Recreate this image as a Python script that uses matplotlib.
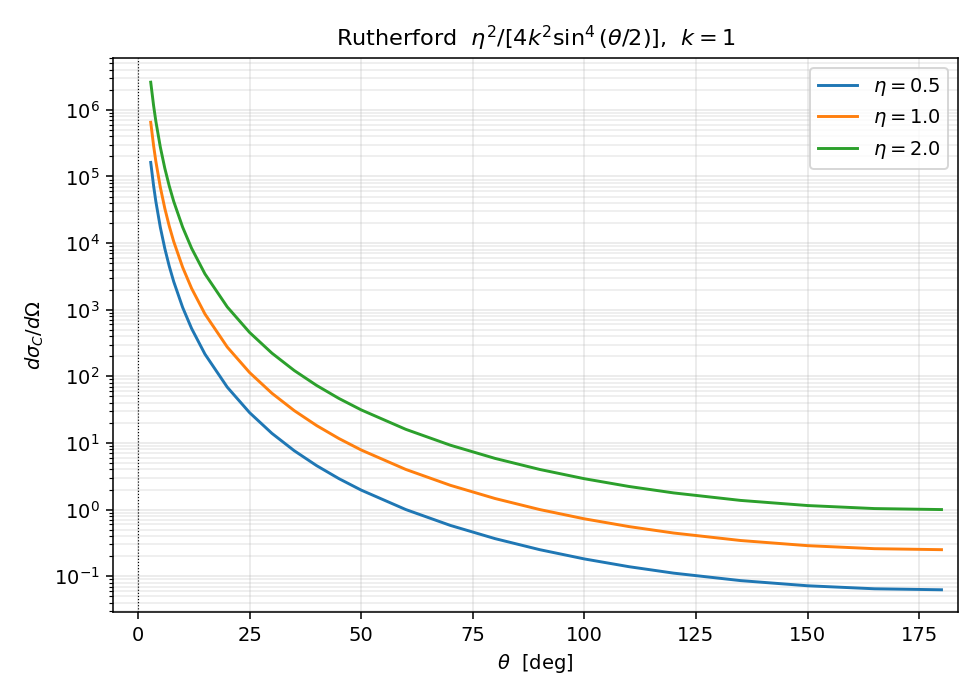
import matplotlib

matplotlib.use("Agg")
import matplotlib.pyplot as plt

# scattering angle in degrees
theta = [2.85, 3.5, 4, 5, 6, 7, 8, 10, 12, 15, 20, 25, 30, 35, 40, 45, 50, 60,
         70, 80, 90, 100, 110, 120, 135, 150, 165, 180]

sigma_eta1 = [6.5e5, 2.875e5, 1.685e5, 6.906e4, 3.332e4, 1.800e4, 1.056e4, 4333,
              2094, 861.3, 274.9, 113.9, 55.71, 30.58, 18.27, 11.66, 7.837, 4.0,
              2.310, 1.4645, 1.0, 0.7260, 0.5552, 0.4444, 0.3431, 0.2872, 0.2587, 0.25]
sigma_eta05 = [1.625e5, 7.19e4, 4.21e4, 1.727e4, 8330, 4500, 2640, 1083,
               523.5, 215.3, 68.7, 28.5, 13.93, 7.645, 4.57, 2.915, 1.959, 1.0,
               0.5775, 0.366, 0.25, 0.1815, 0.1388, 0.1111, 0.0858, 0.0718, 0.0647, 0.0625]
sigma_eta2 = [2.6e6, 1.15e6, 6.74e5, 2.762e5, 1.333e5, 7.2e4, 4.224e4, 1.733e4,
              8376, 3445, 1100, 455.6, 222.8, 122.3, 73.1, 46.6, 31.35, 16.0,
              9.24, 5.858, 4.0, 2.904, 2.221, 1.778, 1.372, 1.149, 1.035, 1.0]

series = [(r"$\eta = 0.5$", sigma_eta05, "#1f77b4"),
          (r"$\eta = 1.0$", sigma_eta1, "#ff7f0e"),
          (r"$\eta = 2.0$", sigma_eta2, "#2ca02c")]

fig = plt.figure(figsize=(7.0, 5.0), dpi=140)
ax = fig.add_axes([113 / 980, 1 - 612 / 700, 845 / 980, 554 / 700])
for label, ys, c in series:
    ax.plot(theta, ys, color=c, lw=1.5, label=label)
ax.axvline(0, color="black", ls=":", lw=0.6)
ax.set_yscale("log")
ax.set_xlim(-5.6, 183.7)
ax.set_ylim(2.9e-2, 6e6)
ax.grid(which="major", alpha=0.3)
ax.grid(which="minor", axis="y", alpha=0.25)
ax.set_xlabel(r"$\theta$  [deg]")
ax.set_ylabel(r"$d\sigma_C/d\Omega$")
ax.set_title(r"Rutherford  $\eta^2/[4k^2\sin^4(\theta/2)]$,  $k=1$", fontsize=11.5)
ax.legend(loc="upper right")
fig.savefig("out.png", dpi=140)
plt.close(fig)
